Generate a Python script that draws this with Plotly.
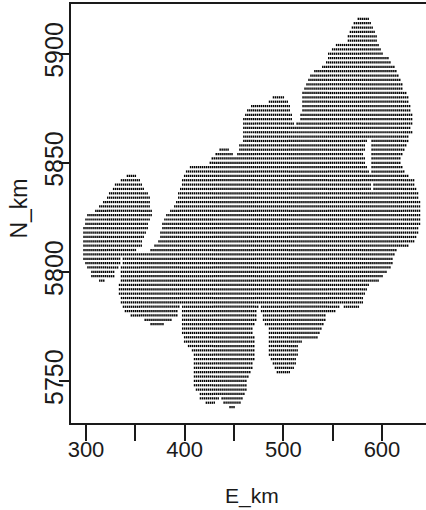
import plotly.graph_objects as go

# Northing of each grid row (km) and the easting spans (km) occupied on that row
north_km = [5916,5914,5912,5910,5908,5906,5904,5902,5900,5898,5896,5894,5892,5890,5888,5886,5884,5882,5880,5878,
            5876,5874,5872,5870,5868,5866,5864,5862,5860,5858,5856,5854,5852,5850,5848,5846,5844,5842,5840,5838,
            5836,5834,5832,5830,5828,5826,5824,5822,5820,5818,5816,5814,5812,5810,5808,5806,5804,5802,5800,5798,
            5796,5794,5792,5790,5788,5786,5784,5782,5780,5778,5776,5774,5772,5770,5768,5766,5764,5762,5760,5758,
            5756,5754,5752,5750,5748,5746,5744,5742,5740,5738]
spans_km = [
    [(576,586)],[(572,588)],[(570,590)],[(568,592)],[(566,594)],[(566,594)],[(554,562),(564,596)],[(550,598)],
    [(546,600)],[(546,606)],[(544,608)],[(540,612)],[(532,614)],[(528,616)],[(526,618)],[(524,620)],[(522,620)],
    [(520,624)],[(490,500),(520,626)],[(486,504),(520,626)],[(468,482),(484,506),(520,628)],[(464,506),(520,628)],
    [(462,508),(518,630)],[(460,508),(518,630)],[(460,510),(514,630)],[(460,628)],[(460,630)],[(460,586),(588,626)],
    [(460,584),(590,626)],[(456,582),(590,624)],[(436,444),(456,582),(590,622)],[(432,448),(454,580),(590,620)],
    [(428,450),(452,582),(590,618)],[(426,582),(590,618)],[(406,424),(426,584),(590,620)],[(402,586),(590,622)],
    [(342,350),(400,588),(590,626)],[(336,354),(398,588),(590,632)],[(330,356),(398,588),(592,632)],
    [(328,358),(396,588),(592,634)],[(324,362),(394,636)],[(322,364),(394,636)],[(318,364),(392,638)],
    [(314,364),(390,638)],[(310,366),(386,638)],[(302,366),(382,638)],[(300,364),(380,638)],[(300,362),(378,638)],
    [(298,362),(378,636)],[(298,360),(376,636)],[(298,358),(376,634)],[(298,356),(374,632)],[(298,356),(370,626)],
    [(298,350),(366,614)],[(298,612)],[(298,334),(338,610)],[(300,334),(338,610)],[(302,332),(336,608)],
    [(306,328),(336,604)],[(306,328),(336,600)],[(314,318),(336,596)],[(334,586)],[(334,584)],[(334,582)],
    [(336,580)],[(336,580)],[(338,394),(398,474),(478,556),(562,576)],[(340,392),(398,472),(478,552)],
    [(346,392),(398,472),(480,542)],[(360,386),(398,472),(480,542)],[(366,378),(398,470),(482,540)],
    [(398,468),(486,538)],[(398,468),(486,536)],[(400,470),(486,534)],[(400,470),(486,518)],[(404,470),(486,514)],
    [(408,470),(486,514)],[(410,470),(486,514)],[(410,470),(488,512)],[(410,468),(490,512)],[(410,468),(492,510)],
    [(410,466),(494,506)],[(410,464)],[(410,462)],[(410,462)],[(412,462)],[(416,460)],[(416,434),(438,458)],
    [(422,430),(440,456)],[(446,450)],
]
x_tick_vals = [300,350,400,450,500,550,600]
x_tick_text = ["300","","400","","500","","600"]
y_tick_vals = [5750,5800,5850,5900]
y_tick_text = ["5750","5800","5850","5900"]

E_km, N_km = [], []
for n, spans in zip(north_km, spans_km):
    for a, b in spans:
        for e in range(a, b + 2, 2):
            E_km.append(e)
            N_km.append(n)

INK = "#1a1a1a"
fig = go.Figure(go.Scatter(x=E_km, y=N_km, mode="markers",
                           marker=dict(symbol="line-ns", size=1.6, color="black",
                                       line=dict(width=1.45, color="black")),
                           hoverinfo="skip"))
fig.update_layout(
    width=426, height=510, autosize=False, showlegend=False,
    paper_bgcolor="white", plot_bgcolor="white",
    margin=dict(l=70.5, r=0, t=4, b=87),
    font=dict(family="Liberation Sans", color=INK),
    xaxis=dict(range=[284.8, 644.6], tickmode="array", tickvals=x_tick_vals, ticktext=x_tick_text,
               ticks="outside", ticklen=6, tickwidth=1.5, tickcolor=INK,
               minor=dict(tickmode="array", tickvals=x_tick_vals, ticks="outside", ticklen=16, tickwidth=1.5, tickcolor=INK),
               showline=True, linewidth=1.5, linecolor=INK, mirror=True,
               showgrid=False, zeroline=False,
               tickfont=dict(family="Liberation Sans", size=22, color=INK)),
    yaxis=dict(range=[5730.7, 5922.8], tickmode="array", tickvals=y_tick_vals, ticktext=y_tick_text,
               ticks="outside", ticklen=1, tickwidth=1.5, tickcolor=INK, tickangle=-90,
               minor=dict(tickmode="array", tickvals=y_tick_vals, ticks="outside", ticklen=10.5, tickwidth=1.5, tickcolor=INK),
               showline=True, linewidth=1.5, linecolor=INK, mirror=False,
               showgrid=False, zeroline=False, ticklabelstandoff=-5,
               tickfont=dict(family="Liberation Sans", size=25, color=INK)),
    annotations=[
        dict(text="E_km", xref="paper", yref="paper", x=(252 - 70.5) / 355.5, y=-(496 - 423) / 419,
             showarrow=False, xanchor="center", yanchor="middle",
             font=dict(family="Liberation Sans", size=21, color=INK)),
        dict(text="N_km", xref="paper", yref="paper", x=-(70.5 - 18) / 355.5, y=(423 - 209) / 419,
             textangle=-90, showarrow=False, xanchor="center", yanchor="middle",
             font=dict(family="Liberation Sans", size=23, color=INK)),
    ],
)
fig.write_html("out.html", config=dict(displayModeBar=False),
               post_script="document.body.style.margin='0';document.documentElement.style.overflow='hidden';")
